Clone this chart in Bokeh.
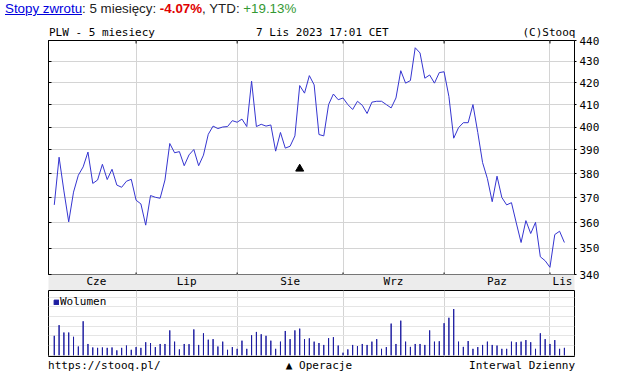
import numpy as np
from bokeh.plotting import figure
from bokeh.models import (Range1d, FixedTicker, LinearAxis, PrintfTickFormatter,
                          Legend, LegendItem, Div)
from bokeh.layouts import column
from bokeh.embed import file_html
from bokeh.resources import INLINE

# ---------------- data ----------------
symbol_title = "PLW - 5 miesiecy"
stamp = "7 Lis 2023 17:01 CET"
copyright_txt = "(C)Stooq"
ret_5m = -4.07
ret_ytd = 19.13

close = [367.1, 386.9, 372.8, 360.3, 372.3, 379.3, 382.8, 389.1, 375.9, 377.3,
         383.9, 377.5, 381.8, 375.2, 374.3, 376.8, 377.6, 369.0, 367.5, 359.0,
         370.9, 370.2, 369.8, 377.3, 392.8, 388.8, 389.3, 383.3, 387.9, 390.2,
         383.3, 387.8, 396.8, 400.4, 399.3, 400.0, 400.2, 402.8, 402.1, 403.5,
         400.2, 420.7, 400.2, 401.2, 400.4, 400.9, 389.5, 397.6, 390.8, 391.6,
         396.1, 418.7, 415.2, 423.3, 419.0, 396.7, 396.1, 410.0, 414.8, 412.2,
         413.0, 410.0, 407.8, 411.5, 409.7, 406.0, 411.1, 411.5, 411.5, 410.0,
         408.5, 413.0, 425.6, 419.8, 421.0, 436.5, 434.0, 422.1, 423.6, 419.8,
         424.7, 425.1, 413.7, 395.1, 399.7, 401.9, 401.9, 410.0, 397.6, 384.6,
         377.9, 368.4, 378.9, 370.1, 367.1, 368.0, 359.9, 352.2, 360.8, 355.7,
         360.1, 346.7, 345.2, 342.7, 355.3, 356.6, 352.2]

volume_k = [10.0, 15.5, 11.7, 11.7, 9.5, 4.5, 17.5, 5.8, 4.0, 3.8,
            4.0, 3.8, 4.0, 2.5, 3.8, 5.0, 2.8, 4.2, 3.8, 6.7,
            6.3, 4.2, 5.8, 5.8, 12.8, 7.0, 3.0, 5.8, 5.7, 13.3,
            5.3, 11.3, 8.0, 8.3, 4.5, 7.0, 2.8, 4.2, 3.3, 7.5,
            3.3, 10.3, 12.0, 10.8, 10.0, 7.5, 3.3, 7.0, 12.5, 8.3,
            12.8, 13.7, 8.3, 8.7, 7.0, 6.3, 5.3, 8.8, 9.3, 5.0,
            1.3, 3.0, 5.3, 4.7, 5.8, 5.3, 7.0, 8.3, 3.3, 4.2,
            16.3, 5.8, 17.8, 7.0, 4.3, 5.8, 5.8, 5.3, 12.8, 7.0,
            7.2, 16.5, 19.3, 23.8, 7.0, 4.3, 7.3, 3.3, 4.2, 5.3,
            7.0, 5.3, 5.0, 3.3, 3.3, 7.0, 6.7, 7.0, 7.8, 6.7,
            3.3, 11.3, 8.3, 5.8, 7.8, 3.3, 3.8]

day = list(range(len(close)))

month_start_idx = [17, 38, 60, 81, 103]
month_names = ["Cze", "Lip", "Sie", "Wrz", "Paz", "Lis"]
month_label_pos = [8.75, 27.5, 49.0, 70.5, 92.0, 105.6]
price_ticks = [340, 350, 360, 370, 380, 390, 400, 410, 420, 430, 440]

op_idx = [51]
op_val = [382]

top_texts = [symbol_title, stamp, copyright_txt]
top_text_pos = [9.9, 55.7, 102.8]
foot_texts = ["https://stooq.pl/", "\u25b2 Operacje", "Interwal Dzienny"]
foot_text_pos = [10.4, 55.0, 97.2]

# ---------------- style / layout ----------------
MONO = "DejaVu Sans Mono"
SANS = "Liberation Sans"
W = 617
LB, RB = 48, 43
H_HEAD = 22
H_A = 268
H_B = 84
LINE_C = "#3535d0"
VOL_C = "#1c1ca0"
GRID_C = "#d4d4d4"
BAND_C = "#ececec"

xr = Range1d(-1.2, 108.1)

# ---------------- header line ----------------
head_html = (
    f'<div style="font-family:\'{SANS}\',Arial,sans-serif;font-size:13.33px;'
    'line-height:15px;padding:1px 0 0 5px;white-space:nowrap;color:#222222;">'
    '<span style="color:#0000dd;text-decoration:underline;">Stopy zwrotu</span>'
    ': 5 miesi\u0119cy: '
    f'<b style="color:#e00000;">{ret_5m:.2f}%</b>'
    ', YTD: '
    f'<span style="color:#339933;">+{ret_ytd:.2f}%</span>'
    '</div>'
)
head = Div(text=head_html, width=W, height=H_HEAD, margin=(0, 0, 0, 0))

# ---------------- price panel ----------------
pa = figure(width=W, height=H_A, x_range=xr, y_range=Range1d(price_ticks[0], price_ticks[-1]),
            y_axis_type="log", y_axis_location="right", toolbar_location=None,
            output_backend="svg", min_border_left=LB, min_border_right=RB,
            min_border_top=18, min_border_bottom=13, outline_line_color="black")

band = pa.below[0]
band.ticker = FixedTicker(ticks=month_label_pos)
band.major_label_overrides = dict(zip(month_label_pos, month_names))
band.major_tick_in = 0
band.major_tick_out = 0
band.minor_tick_in = 0
band.minor_tick_out = 0
band.axis_line_color = None
band.major_label_standoff = 0
band.major_label_text_font = MONO
band.major_label_text_font_size = "11px"
band.major_label_text_color = "black"
if hasattr(band, "background_fill_color"):
    band.background_fill_color = BAND_C

ra = pa.right[0]
ra.ticker = FixedTicker(ticks=price_ticks)
ra.formatter = PrintfTickFormatter(format="%d")
ra.major_tick_in = 0
ra.major_tick_out = 2
ra.minor_tick_in = 0
ra.minor_tick_out = 0
ra.major_label_standoff = 3
ra.axis_line_color = "black"
ra.major_label_text_font = MONO
ra.major_label_text_font_size = "11px"
ra.major_label_text_color = "black"

la = LinearAxis(ticker=FixedTicker(ticks=price_ticks), major_tick_in=3, major_tick_out=0,
                minor_tick_in=0, minor_tick_out=0, axis_line_color="black",
                major_label_overrides={t: "" for t in price_ticks},
                major_label_text_font_size="0px", major_label_standoff=0)
pa.add_layout(la, "left")

ta = LinearAxis(ticker=FixedTicker(ticks=top_text_pos),
                major_label_overrides=dict(zip(top_text_pos, top_texts)),
                major_tick_in=0, major_tick_out=0, minor_tick_in=0, minor_tick_out=0,
                axis_line_color=None, major_label_standoff=2,
                major_label_text_font=MONO, major_label_text_font_size="11px",
                major_label_text_color="black")
pa.add_layout(ta, "above")

pa.xgrid.ticker = FixedTicker(ticks=month_start_idx)
pa.xgrid.grid_line_color = GRID_C
pa.ygrid.ticker = FixedTicker(ticks=price_ticks)
pa.ygrid.grid_line_color = GRID_C

pa.line(day, close, line_color=LINE_C, line_width=1)
pa.scatter(op_idx, op_val, marker="triangle", size=8, color="black")
pa.scatter(month_start_idx, [price_ticks[-1]] * len(month_start_idx), marker="dash",
           angle=np.pi / 2, size=6, line_color="black")
pa.scatter(month_start_idx, [price_ticks[0]] * len(month_start_idx), marker="dash",
           angle=np.pi / 2, size=4, line_color="black")

# ---------------- volume panel ----------------
pb = figure(width=W, height=H_B, x_range=xr, y_range=Range1d(-0.65, 33.35),
            y_axis_location=None, toolbar_location=None, output_backend="svg",
            min_border_left=LB, min_border_right=RB, min_border_top=0,
            min_border_bottom=16, outline_line_color="black")
pb.xgrid.ticker = FixedTicker(ticks=month_start_idx)
pb.xgrid.grid_line_color = GRID_C

fa = pb.below[0]
fa.ticker = FixedTicker(ticks=foot_text_pos)
fa.major_label_overrides = dict(zip(foot_text_pos, foot_texts))
fa.major_tick_in = 0
fa.major_tick_out = 0
fa.minor_tick_in = 0
fa.minor_tick_out = 0
fa.axis_line_color = None
fa.major_label_standoff = 2
fa.major_label_text_font = MONO
fa.major_label_text_font_size = "11px"
fa.major_label_text_color = "black"

bars = pb.vbar(x=day, top=volume_k, bottom=0, width=0.001, fill_color=VOL_C,
               line_color=VOL_C, line_width=1)
leg = Legend(items=[LegendItem(label="Wolumen", renderers=[bars])], location="top_left",
             glyph_width=6, glyph_height=6, label_height=6, label_width=10,
             padding=0, margin=5, spacing=0, label_standoff=1,
             border_line_color=None, background_fill_alpha=0,
             label_text_font=MONO, label_text_font_size="11px", label_text_color="black")
pb.add_layout(leg)

layout = column(head, pa, pb)
open("out.html", "w", encoding="utf-8").write(file_html(layout, INLINE))
